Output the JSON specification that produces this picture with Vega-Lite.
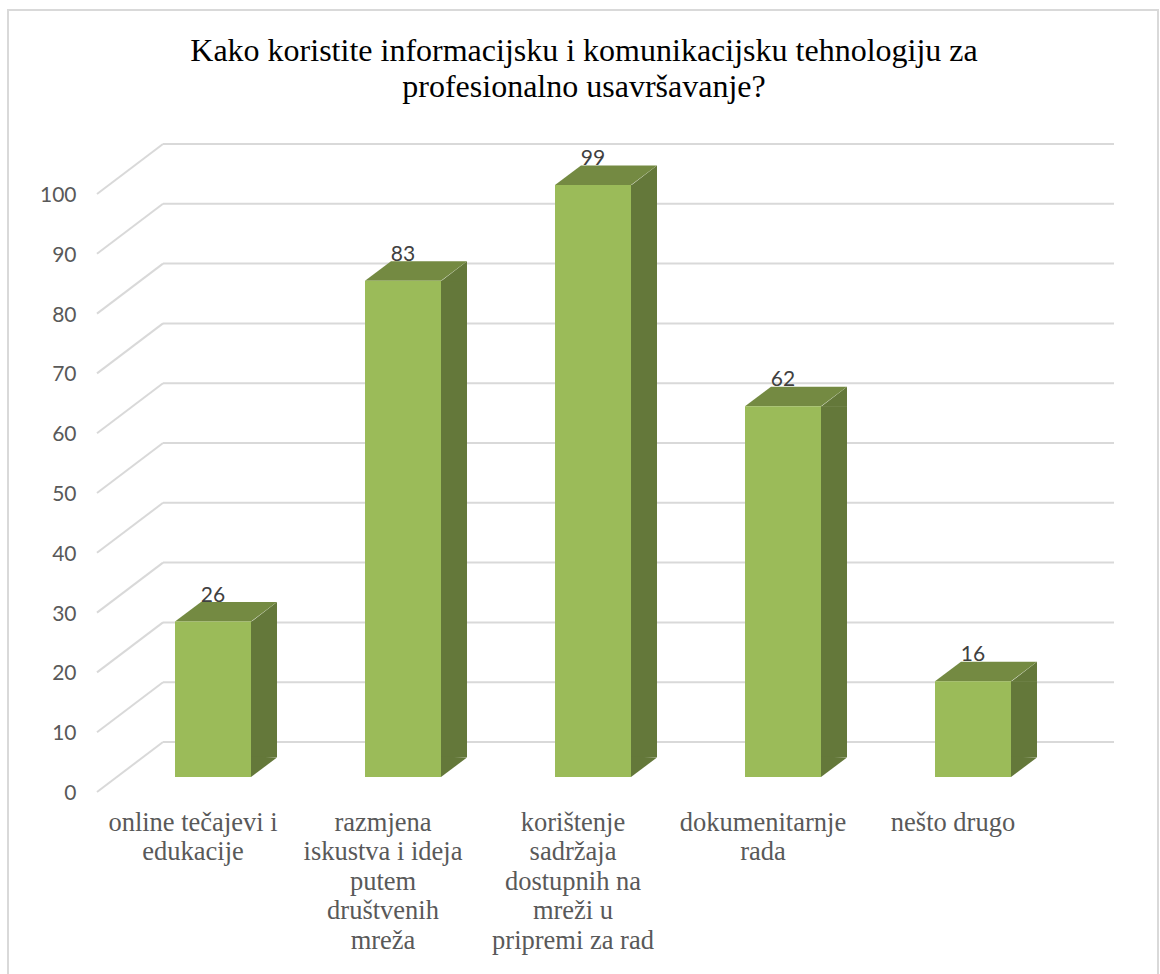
{
  "$schema": "https://vega.github.io/schema/vega-lite/v6.json",
  "width": 950,
  "height": 598,
  "autosize": "none",
  "padding": {"left": 98, "top": 194, "right": 112, "bottom": 182},
  "background": "white",
  "config": {"view": {"stroke": null}},
  "title": {
    "text": ["Kako koristite informacijsku i komunikacijsku tehnologiju za", "profesionalno usavršavanje?"],
    "font": "Liberation Serif",
    "fontSize": 32,
    "fontWeight": "normal",
    "color": "#000000",
    "lineHeight": 36,
    "anchor": "middle",
    "dx": 11,
    "offset": -95
  },
  "datasets": {
    "bars": [
      {"category": "online tečajevi i\nedukacije", "value": 26},
      {"category": "razmjena\niskustva i ideja\nputem\ndruštvenih\nmreža", "value": 83},
      {"category": "korištenje\nsadržaja\ndostupnih na\nmreži u\npripremi za rad", "value": 99},
      {"category": "dokumenitarnje\nrada", "value": 62},
      {"category": "nešto drugo", "value": 16}
    ],
    "ticks": [
      {"tick": 0}, {"tick": 10}, {"tick": 20}, {"tick": 30}, {"tick": 40}, {"tick": 50},
      {"tick": 60}, {"tick": 70}, {"tick": 80}, {"tick": 90}, {"tick": 100}
    ]
  },
  "layer": [
    {
      "data": {"values": [{"frame": 1}]},
      "mark": {"type": "rect", "fill": null, "stroke": "#D9D9D9", "strokeWidth": 2},
      "encoding": {
        "x": {"value": -90},
        "x2": {"value": 1060},
        "y": {"value": -184},
        "y2": {"value": 800}
      }
    },
    {
      "data": {"name": "ticks"},
      "mark": {"type": "rule", "color": "#D9D9D9", "strokeWidth": 2, "xOffset": 65, "x2Offset": 65, "yOffset": -50},
      "encoding": {
        "y": {
          "field": "tick",
          "type": "quantitative",
          "scale": {"domain": [0, 100]},
          "axis": {
            "title": null,
            "values": [0, 10, 20, 30, 40, 50, 60, 70, 80, 90, 100],
            "domain": false,
            "ticks": false,
            "grid": false,
            "labelFont": "Lato",
            "labelFontSize": 21,
            "labelColor": "#595959",
            "labelPadding": 22,
            "labelOffset": 1.5
          }
        },
        "x": {"value": 0},
        "x2": {"value": 951}
      }
    },
    {
      "data": {"name": "ticks"},
      "mark": {"type": "point", "shape": "M-1,0L65,-50", "size": 4, "filled": false, "stroke": "#D9D9D9", "strokeWidth": 2, "opacity": 1},
      "encoding": {
        "y": {"field": "tick", "type": "quantitative"},
        "x": {"value": 0}
      }
    },
    {
      "data": {"name": "bars"},
      "layer": [
        {
          "mark": {"type": "text", "font": "Lato", "fontSize": 21, "color": "#404040", "xOffset": 20, "yOffset": -41, "baseline": "middle"},
          "encoding": {
            "y": {"field": "value", "type": "quantitative"},
            "text": {"field": "value", "type": "quantitative"}
          }
        },
        {
          "mark": {"type": "bar", "width": 26, "xOffset": 71, "yOffset": -15, "y2Offset": -15, "color": "#64783A"},
          "encoding": {"y": {"field": "value", "type": "quantitative"}, "y2": {"datum": 3.3}}
        },
        {
          "mark": {"type": "point", "shape": "M0,0.5L26,-19.5L26,0.5Z", "size": 4, "filled": true, "color": "#64783A", "opacity": 1, "xOffset": 58, "yOffset": -15},
          "encoding": {"y": {"field": "value", "type": "quantitative"}}
        },
        {
          "mark": {"type": "point", "shape": "M0,0L26,-19.5L0,-20.5Z", "size": 4, "filled": true, "color": "#64783A", "opacity": 1, "xOffset": 58, "yOffset": -15},
          "encoding": {"y": {"datum": 0}}
        },
        {
          "mark": {"type": "point", "shape": "M-38,0L38,0L64,-19.5L-12,-19.5Z", "size": 4, "filled": true, "color": "#748A42", "opacity": 1, "xOffset": 20, "yOffset": -15},
          "encoding": {"y": {"field": "value", "type": "quantitative"}}
        },
        {
          "mark": {"type": "bar", "width": 76, "xOffset": 20, "yOffset": -15, "y2Offset": -15, "color": "#9BBB59"},
          "encoding": {"y": {"field": "value", "type": "quantitative"}, "y2": {"datum": 0}}
        }
      ],
      "encoding": {
        "x": {
          "field": "category",
          "type": "nominal",
          "sort": null,
          "scale": {"paddingInner": 0.2, "paddingOuter": 0.1},
          "axis": {
            "title": null,
            "domain": false,
            "ticks": false,
            "grid": false,
            "labelAngle": 0,
            "labelAlign": "center",
            "labelBaseline": "top",
            "labelFont": "Liberation Serif",
            "labelFontSize": 26.5,
            "labelColor": "#595959",
            "labelLineHeight": 29.5,
            "labelPadding": 17,
            "labelLimit": 400,
            "labelExpr": "split(datum.label, '\\n')"
          }
        }
      }
    }
  ]
}
